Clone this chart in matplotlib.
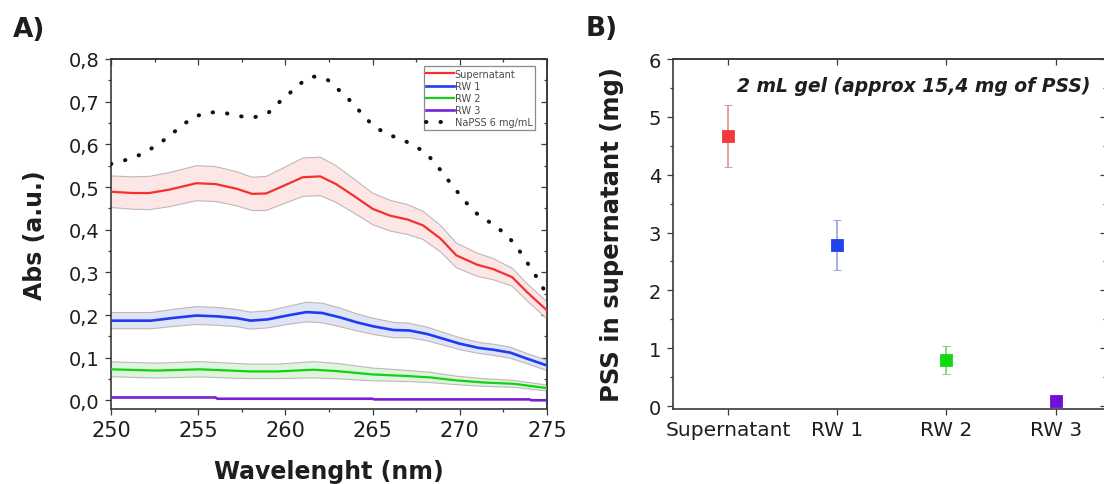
import numpy as np
import matplotlib
matplotlib.use("Agg")
import matplotlib.pyplot as plt
from matplotlib.ticker import MultipleLocator

# ---------------- data: panel A ----------------
sup_x = [250, 251.25, 252.2, 253.35, 254.9, 256.0, 257.2, 258.1, 258.9, 259.9, 261.0, 262.0,
         262.9, 263.9, 265.0, 266.0, 267.0, 267.9, 268.9, 269.8, 271.0, 271.9, 273.0, 273.85, 275]
sup_y = [0.489, 0.486, 0.486, 0.494, 0.509, 0.507, 0.496, 0.484, 0.485, 0.503, 0.523, 0.525,
         0.507, 0.480, 0.449, 0.433, 0.424, 0.410, 0.379, 0.340, 0.318, 0.308, 0.289, 0.254, 0.211]
sup_err = [0.037, 0.038, 0.039, 0.040, 0.041, 0.041, 0.040, 0.039, 0.040, 0.042, 0.045, 0.045,
           0.043, 0.040, 0.037, 0.036, 0.035, 0.033, 0.031, 0.029, 0.027, 0.025, 0.021, 0.020, 0.020]

rw1_x = [250, 252.3, 253.5, 254.9, 256.1, 257.2, 258.0, 259.0, 260.1, 261.2, 262.1, 263.1,
         264.1, 265.0, 266.2, 267.1, 268.1, 269.1, 270.0, 271.1, 271.9, 272.9, 273.85, 275]
rw1_y = [0.187, 0.187, 0.193, 0.199, 0.197, 0.193, 0.187, 0.190, 0.199, 0.207, 0.205, 0.195,
         0.183, 0.174, 0.165, 0.164, 0.156, 0.144, 0.133, 0.123, 0.119, 0.112, 0.098, 0.082]
rw1_err = [0.019, 0.019, 0.020, 0.021, 0.021, 0.020, 0.020, 0.020, 0.021, 0.023, 0.023, 0.022,
           0.020, 0.019, 0.018, 0.017, 0.016, 0.015, 0.014, 0.013, 0.013, 0.013, 0.012, 0.012]

rw2_x = [250, 252.6, 255.1, 258.0, 259.5, 261.6, 262.9, 265.0, 267.1, 268.3, 269.8, 271.4, 273.1, 275]
rw2_y = [0.073, 0.070, 0.073, 0.068, 0.068, 0.072, 0.069, 0.061, 0.057, 0.054, 0.047, 0.042, 0.039, 0.029]
rw2_err = [0.0175, 0.0175, 0.018, 0.017, 0.017, 0.019, 0.018, 0.015, 0.013, 0.012, 0.010, 0.009, 0.008, 0.007]

rw3_x = [250, 256.0, 256.1, 265.0, 265.1, 274.0, 274.1, 275]
rw3_y = [0.007, 0.007, 0.004, 0.004, 0.0025, 0.0025, 0.0005, 0.0005]

napss_x = [250, 250.9, 251.7, 252.6, 253.3, 254.0, 254.7, 255.5, 256.4, 257.2, 258.1, 259.0,
           259.6, 260.3, 261.0, 261.6, 262.4, 263.1, 263.8, 264.4, 265.0, 265.8, 266.6, 267.4,
           268.1, 268.7, 269.2, 269.8, 270.4, 271.0, 271.7, 272.5, 273.1, 273.6, 274.1, 274.6, 275]
napss_y = [0.554, 0.564, 0.576, 0.597, 0.618, 0.642, 0.663, 0.675, 0.675, 0.667, 0.662, 0.673,
           0.697, 0.722, 0.747, 0.759, 0.752, 0.726, 0.699, 0.671, 0.645, 0.624, 0.613, 0.597,
           0.578, 0.550, 0.523, 0.492, 0.462, 0.437, 0.418, 0.394, 0.369, 0.340, 0.308, 0.277, 0.246]

a_yticks = [0.0, 0.1, 0.2, 0.3, 0.4, 0.5, 0.6, 0.7, 0.8]
a_yticklabels = ["0,0", "0,1", "0,2", "0,3", "0,4", "0,5", "0,6", "0,7", "0,8"]
a_xticks = [250, 255, 260, 265, 270, 275]

# ---------------- data: panel B ----------------
b_categories = ["Supernatant", "RW 1", "RW 2", "RW 3"]
b_values = [4.67, 2.79, 0.80, 0.08]
b_errors = [0.54, 0.43, 0.245, 0.0]

# ---------------- style ----------------
c_red, c_blue, c_green, c_purple = "#f5302e", "#1f3cf0", "#16d016", "#7a1fd6"
f_red, f_blue, f_green = "#fce6e6", "#e0e4f7", "#def5de"
m_colors = ["#f23a3a", "#2244ee", "#12d812", "#6c10dc"]
e_colors = ["#dd8888", "#8a98dd", "#77c077", "#9a77dd"]
spine_c = "#3a3a3a"
text_c = "#1e1e1e"

plt.rcParams["font.family"] = ["DejaVu Sans"]

W, H = 1104, 485
fig = plt.figure(figsize=(W / 100, H / 100), dpi=100)

ax1 = fig.add_axes([111 / W, (H - 410) / H, 436 / W, 350 / H])
ax2 = fig.add_axes([673.3 / W, (H - 410) / H, 432.7 / W, 350 / H])


def style_axes(ax):
    for s in ax.spines.values():
        s.set_color(spine_c)
        s.set_linewidth(1.2)
    ax.tick_params(which="both", direction="out", colors=spine_c, labelcolor=text_c, width=0.9)
    ax.tick_params(which="major", length=4.2)
    ax.tick_params(which="minor", length=2.4)


def style_secondary(s2):
    for s in s2.spines.values():
        s.set_color(spine_c)
        s.set_linewidth(1.2)
    s2.tick_params(which="both", direction="in", colors=spine_c, width=0.9)
    s2.tick_params(which="major", length=4.2)
    s2.tick_params(which="minor", length=2.4)


# ---------------- panel A ----------------
def band(ax, x, y, e, fc):
    x = np.asarray(x); y = np.asarray(y); e = np.asarray(e)
    ax.fill_between(x, y - e, y + e, facecolor=fc, edgecolor="none", zorder=1)
    ax.plot(x, y + e, color="#b4a8a8", lw=0.8, alpha=0.8, zorder=2)
    ax.plot(x, y - e, color="#b4a8a8", lw=0.8, alpha=0.8, zorder=2)


band(ax1, sup_x, sup_y, sup_err, f_red)
band(ax1, rw1_x, rw1_y, rw1_err, f_blue)
band(ax1, rw2_x, rw2_y, rw2_err, f_green)

ax1.plot(sup_x, sup_y, color=c_red, lw=1.6, label="Supernatant", zorder=3)
ax1.plot(rw1_x, rw1_y, color=c_blue, lw=1.9, label="RW 1", zorder=3)
ax1.plot(rw2_x, rw2_y, color=c_green, lw=1.6, label="RW 2", zorder=3)
ax1.plot(rw3_x, rw3_y, color=c_purple, lw=1.9, label="RW 3", zorder=3)
ax1.plot(napss_x, napss_y, color="#111111", lw=2.9, linestyle=(0, (0.1, 3.5)),
         dash_capstyle="round", label="NaPSS 6 mg/mL", zorder=3)

ax1.set_xlim(250, 275)
ax1.set_ylim(-0.02, 0.8)
ax1.set_xticks(a_xticks)
ax1.xaxis.set_minor_locator(MultipleLocator(2.5))
ax1.set_yticks(a_yticks)
ax1.set_yticklabels(a_yticklabels)
ax1.yaxis.set_minor_locator(MultipleLocator(0.05))
style_axes(ax1)
ax1.tick_params(axis="x", labelsize=15, pad=4)
ax1.tick_params(axis="y", labelsize=14, pad=4)

sx = ax1.secondary_xaxis("top")
sx.set_xticks(a_xticks)
sx.xaxis.set_minor_locator(MultipleLocator(2.5))
sx.set_xticklabels([])
sy = ax1.secondary_yaxis("right")
sy.set_yticks(a_yticks)
sy.yaxis.set_minor_locator(MultipleLocator(0.05))
sy.set_yticklabels([])
style_secondary(sx)
style_secondary(sy)

ax1.set_xlabel("Wavelenght (nm)", fontsize=17, fontweight="bold", color=text_c)
ax1.xaxis.set_label_coords(0.5, -0.143)
ax1.xaxis.label.set_va("top")
ax1.set_ylabel("Abs (a.u.)", fontsize=17, fontweight="bold", color=text_c)
ax1.yaxis.set_label_coords(-0.147, 0.5)

leg = ax1.legend(loc="upper right", bbox_to_anchor=(0.9725, 0.979), borderaxespad=0,
                 fontsize=7, handlelength=2.9, handletextpad=0.05, labelspacing=0.22,
                 borderpad=0.25, fancybox=False, framealpha=1, edgecolor="#8a8a8a")
leg.get_frame().set_linewidth(0.9)
for t in leg.get_texts():
    t.set_color("#4a4a4a")

# ---------------- panel B ----------------
b_pos = np.arange(1, len(b_categories) + 1)
for i in range(len(b_categories)):
    ax2.errorbar(b_pos[i], b_values[i], yerr=b_errors[i] if b_errors[i] > 0 else None,
                 fmt="s", color=m_colors[i], markersize=9, markeredgecolor=m_colors[i],
                 markeredgewidth=0.6, ecolor=e_colors[i], elinewidth=1.1, capsize=3,
                 capthick=1.0, zorder=3, clip_on=False)

ax2.set_xlim(0.5, 4.46)
ax2.set_ylim(-0.05, 6)
ax2.set_xticks(b_pos)
ax2.set_xticklabels(b_categories)
ax2.set_yticks([0, 1, 2, 3, 4, 5, 6])
ax2.yaxis.set_minor_locator(MultipleLocator(0.5))
style_axes(ax2)
ax2.tick_params(axis="x", labelsize=14.5, pad=4)
ax2.tick_params(axis="y", labelsize=14, pad=4.5)

sx2 = ax2.secondary_xaxis("top")
sx2.set_xticks(b_pos)
sx2.set_xticklabels([])
sy2 = ax2.secondary_yaxis("right")
sy2.set_yticks([0, 1, 2, 3, 4, 5, 6])
sy2.yaxis.set_minor_locator(MultipleLocator(0.5))
sy2.set_yticklabels([])
style_secondary(sx2)
style_secondary(sy2)

ax2.set_ylabel("PSS in supernatant (mg)", fontsize=17.5, fontweight="bold", color=text_c)
ax2.yaxis.set_label_coords(-0.113, 0.5)

fig.text(737 / W, 1 - 86.7 / H, "2 mL gel (approx 15,4 mg of PSS)", fontsize=13.5,
         fontweight="bold", fontstyle="italic", color=text_c, ha="left", va="center")

fig.text(13 / W, 1 - 30 / H, "A)", fontsize=19, fontweight="bold", color=text_c,
         ha="left", va="center")
fig.text(586 / W, 1 - 29 / H, "B)", fontsize=19, fontweight="bold", color=text_c,
         ha="left", va="center")

fig.savefig("out.png", dpi=100)
